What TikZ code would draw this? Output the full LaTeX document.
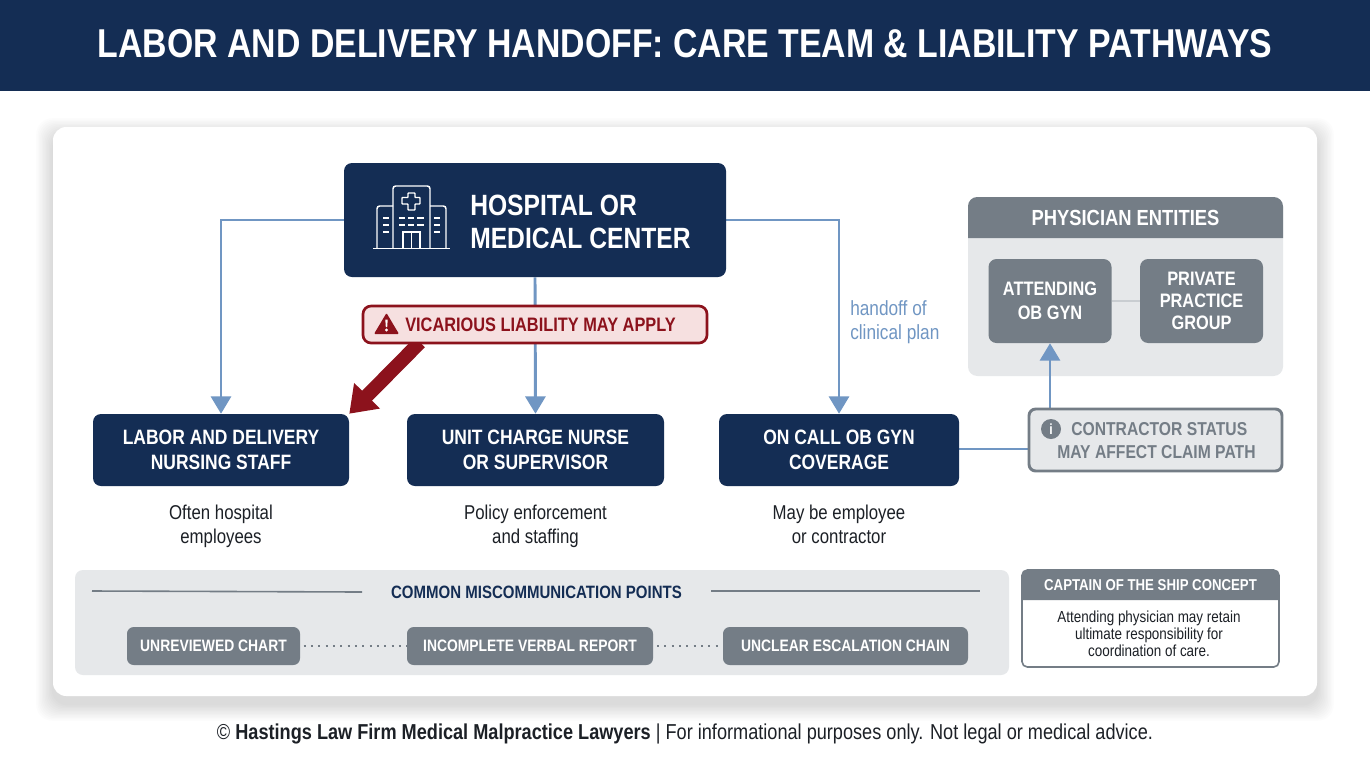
\documentclass[tikz,border=0pt]{standalone}
\usepackage{fontspec}
\setmainfont[FakeStretch=.84]{Liberation Sans}
\usetikzlibrary{calc,positioning,arrows.meta,backgrounds}

\definecolor{navy}{RGB}{20,45,84}
\definecolor{steel}{RGB}{116,125,134}
\definecolor{panel}{RGB}{230,232,234}
\definecolor{link}{RGB}{112,150,195}
\definecolor{alert}{RGB}{140,18,28}
\definecolor{alertbg}{RGB}{246,224,224}
\definecolor{ink}{RGB}{28,32,38}
\newcommand{\px}{.75pt}
\newcommand{\fsz}[1]{\fontsize{#1}{#1}\selectfont}

\begin{document}
\begin{tikzpicture}[x=.75pt, y=-.75pt]
	\tikzstyle{tealbox}=[fill=navy, rounded corners=6pt, text=white, font=\bfseries\fsz{15.6}, align=center, inner sep=0pt]
	\tikzstyle{graybox}=[fill=steel, rounded corners=6pt, text=white, font=\bfseries\fsz{14.6}, align=center, inner sep=0pt]
	\tikzstyle{pill}=[fill=steel, rounded corners=5pt, text=white, font=\bfseries\fsz{12.4}, inner sep=0pt, minimum height=38*\px]
	\tikzstyle{caption}=[text=ink, font=\fsz{15}, align=center, inner sep=0pt]
	\tikzstyle{flow}=[-{Triangle[length=13pt,width=15pt]}, draw=link, line width=2.2pt]
	\tikzstyle{plainlink}=[draw=link, line width=2.2pt]
	\useasboundingbox (0,0) rectangle (1370,765);

	\fill[navy] (0,0) rectangle (1370,91);
	\node (title) [text=white, font=\bfseries\fsz{30.2}] at (685,44) {LABOR AND DELIVERY HANDOFF: CARE TEAM \& LIABILITY PATHWAYS};

	\begin{pgfonlayer}{background}
		% soft shadow, then the card
		\foreach \i in {1,...,12}
			\fill[black, opacity=.013, rounded corners=12pt] (53-\i*1.4,127+8-\i*1.4) rectangle (1317+\i*1.4,696+8+\i*1.4);
		\fill[white, rounded corners=10pt] (53,127) rectangle (1317,696);
		% physician panel sits under the arrow
		\fill[panel, rounded corners=7pt] (968,197) rectangle (1283,376);
		\fill[steel] (968,238) [rounded corners=7pt] -- (968,197) -- (1283,197) [sharp corners] -- (1283,238) -- cycle;
	\end{pgfonlayer}

	\node (hospital) [tealbox, minimum width=382*\px, minimum height=114*\px] at (535,220) {};
	\node (hospitaltext) [text=white, font=\bfseries\fsz{22}, align=left, inner sep=0pt, anchor=west, text depth=0pt] at (470,221.5) {HOSPITAL OR\\[3pt]MEDICAL CENTER};

	% building
	\draw[white, line width=1.1pt] (373,248.5) -- (450,248.5);
	\draw[white, line width=1.1pt, rounded corners=2pt] (377,248.5) -- (377,206) -- (393,206);
	\draw[white, line width=1.1pt, rounded corners=2pt] (393,248.5) -- (393,186) -- (430,186) -- (430,248.5);
	\draw[white, line width=1.1pt, rounded corners=2pt] (430,206) -- (446,206) -- (446,248.5);
	\draw[white, line width=1.1pt] (403,248.5) -- (403,232) -- (420,232) -- (420,248.5) (411.5,232) -- (411.5,248.5);
	\draw[white, line width=1.1pt, rounded corners=.5pt] (408,193) -- (415,193) -- (415,197.5) -- (420,197.5) -- (420,204) -- (415,204) -- (415,210) -- (408,210) -- (408,204) -- (402,204) -- (402,197.5) -- (408,197.5) -- cycle;
	\foreach \y in {218,225,232} {
		\draw[white, line width=.9pt] (383,\y) -- (389,\y) (434,\y) -- (440,\y);
	}
	\foreach \y in {218,225} {
		\draw[white, line width=.9pt] (399,\y) -- (405,\y) (408,\y) -- (414,\y) (417,\y) -- (424,\y);
	}

	\node (nursing) [tealbox, minimum width=256*\px, minimum height=72*\px] at (221,450) {LABOR AND DELIVERY\\[3pt]NURSING STAFF};
	\node (charge) [tealbox, minimum width=257*\px, minimum height=72*\px] at (535.5,450) {UNIT CHARGE NURSE\\[3pt]OR SUPERVISOR};
	\node (oncall) [tealbox, minimum width=240*\px, minimum height=72*\px] at (839,450) {ON CALL OB GYN\\[3pt]COVERAGE};

	\node (nursingcap) [caption, below=14pt of nursing.south] {Often hospital\\[2.5pt]employees};
	\node (chargecap) [caption, below=14pt of charge.south] {Policy enforcement\\[2.5pt]and staffing};
	\node (oncallcap) [caption, below=14pt of oncall.south] {May be employee\\[2.5pt]or contractor};

	\node (vicarious) [fill=alertbg, draw=alert, line width=2pt, rounded corners=6pt, minimum width=344*\px, minimum height=37*\px, inner sep=0pt] at (535,324.5) {};
	\node (vicarioustext) [text=alert, font=\bfseries\fsz{14.6}, inner sep=0pt, anchor=west] at (405,324.5) {VICARIOUS LIABILITY MAY APPLY};
	\fill[alert, rounded corners=.8pt] (374,334) -- (386.5,313) -- (399,334) -- cycle;
	\fill[white] (385.3,319.5) -- (387.7,319.5) -- (387.2,327) -- (385.8,327) -- cycle;
	\fill[white] (386.5,330) circle (1.2pt);

	\node (handoff) [text=link, font=\fsz{15.4}, align=left, inner sep=0pt, anchor=west] at (850,322) {handoff of\\[2.5pt]clinical plan};

	\node (physician) [text=white, font=\bfseries\fsz{16.4}, inner sep=0pt] at (1125.5,218) {PHYSICIAN ENTITIES};
	\node (attending) [graybox, minimum width=123*\px, minimum height=84*\px] at (1050,301) {ATTENDING\\[3pt]OB GYN};
	\node (private) [graybox, minimum width=123*\px, minimum height=84*\px, right=21pt of attending] {PRIVATE\\[2pt]PRACTICE\\[2pt]GROUP};

	\node (contractor) [fill=panel, draw=steel, line width=2.2pt, rounded corners=5pt, minimum width=253*\px, minimum height=62*\px, inner sep=0pt] at (1155.5,440) {};
	\node (status1) [text=steel, font=\bfseries\fsz{14}, inner sep=0pt, anchor=west] at (1071,429) {CONTRACTOR STATUS};
	\node (status2) [text=steel, font=\bfseries\fsz{14}, inner sep=0pt, anchor=west] at (1057,452) {MAY AFFECT CLAIM PATH};
	\node (info) [circle, fill=steel, text=white, font=\bfseries\fsz{11}, minimum size=20*\px, inner sep=0pt] at (1051,429) {i};

	\node (miscomm) [fill=panel, rounded corners=6pt, minimum width=934*\px, minimum height=105*\px, inner sep=0pt] at (542,622.5) {};
	\node (miscommtext) [text=navy, font=\bfseries\fsz{13.4}, inner sep=0pt] at (536.5,592) {COMMON MISCOMMUNICATION POINTS};
	\coordinate (ruleA) at (92,591);
	\coordinate (ruleB) at (980,591);
	\draw[steel, line width=1.2pt] (ruleA) -- (miscommtext.west -| 362,591);
	\draw[steel, line width=1.2pt] (711,591) -- (ruleB);

	\node (chart) [pill, minimum width=173*\px] at (213.5,646) {UNREVIEWED CHART};
	\node (verbal) [pill, minimum width=246*\px] at (530,646) {INCOMPLETE VERBAL REPORT};
	\node (chain) [pill, minimum width=245*\px] at (845.5,646) {UNCLEAR ESCALATION CHAIN};

	\node (captain) [fill=white, draw=steel, line width=1.2pt, rounded corners=4pt, minimum width=257*\px, minimum height=97*\px, inner sep=0pt] at (1150.5,618.5) {};
	\fill[steel] (1022,600) [rounded corners=4pt] -- (1022,570) -- (1279,570) [sharp corners] -- (1279,600) -- cycle;
	\node (captainhead) [text=white, font=\bfseries\fsz{11.8}, inner sep=0pt] at (1150.5,585.5) {CAPTAIN OF THE SHIP CONCEPT};
	\node (captainbody) [text=ink, font=\fsz{12}, align=center, inner sep=0pt] at (1149,634) {Attending physician may retain\\[.8pt]ultimate responsibility for\\[.8pt]coordination of care.};

	\node (footer) [text=ink, font=\fsz{16.2}, inner sep=0pt] at (685,734) {© \textbf{Hastings Law Firm Medical Malpractice Lawyers} | For informational purposes only. Not legal or medical advice.};

	\begin{pgfonlayer}{background}
		\draw[flow] (hospital.west) -| (nursing.north);
		\draw[flow] (hospital.south) -- (charge.north);
		\draw[flow] (hospital.east) -| (oncall.north);
		\draw[flow] (contractor.north -| attending.south) -- (attending.south);
		\draw[plainlink] (oncall.east |- contractor.west) ++(0,9) -- (1028,449);
		\draw[draw=alert, line width=10.5pt, -{Triangle[length=19pt,width=26pt]}] ($(vicarious.south west)!.168!(vicarious.south east)+(0,-2)$) -- (nursing.north east);
	\end{pgfonlayer}
	\draw[draw=panel!75!steel, line width=2pt] (attending) -- (private);
	\draw[steel, line width=1.6pt, dotted, dash pattern=on 1.5pt off 4pt] (chart) ++(90,0) -- (verbal.west);
	\draw[steel, line width=1.6pt, dash pattern=on 1.5pt off 4pt] (verbal) ++(127,0) -- (chain.west);
\end{tikzpicture}
\end{document}
